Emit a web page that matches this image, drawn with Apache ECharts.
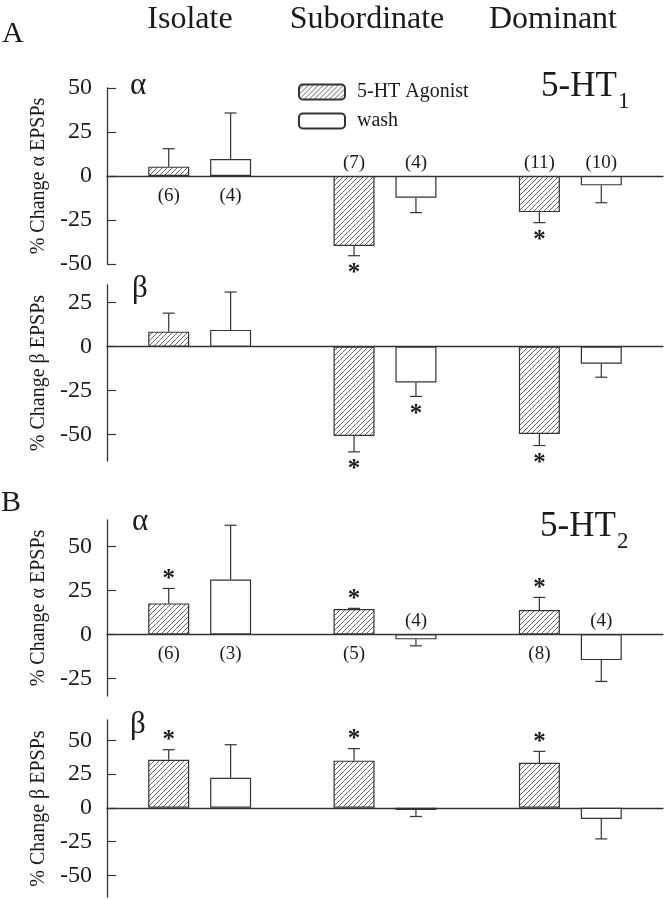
<!DOCTYPE html>
<html><head><meta charset="utf-8">
<script src="https://cdn.jsdelivr.net/npm/echarts@6/dist/echarts.min.js"></script>
<style>html,body{margin:0;padding:0;background:#fff}#c{width:672px;height:899px}</style>
</head><body><div id="c"></div>
<script>
// ---------------- data ----------------
const categories = ['Isolate', 'Subordinate', 'Dominant'];
const seriesNames = ['5-HT Agonist', 'wash'];

// Panel A (5-HT1), alpha EPSPs
const agonistA_alpha = [5.3, -39.8, -20.5];
const agonistA_alphaErr = [10.2, 5.5, 6.0];
const washA_alpha = [9.7, -12.3, -5.3];
const washA_alphaErr = [26.1, 8.5, 9.9];
const agonistA_alphaN = ['(6)', '(7)', '(11)'];
const washA_alphaN = ['(4)', '(4)', '(10)'];
const agonistA_alphaStar = [false, true, true];
const washA_alphaStar = [false, false, false];

// Panel A (5-HT1), beta EPSPs
const agonistA_beta = [8.5, -50.8, -49.7];
const agonistA_betaErr = [10.5, 9.0, 6.5];
const washA_beta = [9.5, -20.4, -9.7];
const washA_betaErr = [21.5, 7.9, 7.7];
const agonistA_betaStar = [false, true, true];
const washA_betaStar = [false, true, false];

// Panel B (5-HT2), alpha EPSPs
const agonistB_alpha = [17.6, 14.4, 13.8];
const agonistB_alphaErr = [8.5, 0.4, 7.2];
const washB_alpha = [31.2, -2.8, -14.6];
const washB_alphaErr = [30.8, 3.7, 12.1];
const agonistB_alphaN = ['(6)', '(5)', '(8)'];
const washB_alphaN = ['(3)', '(4)', '(4)'];
const agonistB_alphaStar = [true, true, true];
const washB_alphaStar = [false, false, false];

// Panel B (5-HT2), beta EPSPs
const agonistB_beta = [35.6, 34.9, 33.4];
const agonistB_betaErr = [7.4, 8.9, 8.4];
const washB_beta = [22.3, -1.7, -8.2];
const washB_betaErr = [24.4, 4.7, 14.8];
const agonistB_betaStar = [true, true, true];
const washB_betaStar = [false, false, false];

// tick labels
const yTicksA_alpha = [-50, -25, 0, 25, 50];
const yTicksA_beta = [-50, -25, 0, 25];
const yTicksB_alpha = [-25, 0, 25, 50];
const yTicksB_beta = [-50, -25, 0, 25, 50];
const yRangeA_alpha = [-50, 50];
const yRangeA_beta = [-65, 35];
const yRangeB_alpha = [-35, 65];
const yRangeB_beta = [-66, 65];
const yNames = ['% Change \u03b1 EPSPs', '% Change \u03b2 EPSPs', '% Change \u03b1 EPSPs', '% Change \u03b2 EPSPs'];

// ---------------- layout / style ----------------
const SERIF = '"Liberation Serif", "DejaVu Serif", "Times New Roman", serif';
const INK = '#1a1a1a';
const LINE = '#333';
const BAR_W = 41;
const BAR_GAP = 0.51;
const OFFSET = (BAR_W + BAR_W * BAR_GAP) / 2;

function hatch() {
  const c = document.createElement('canvas');
  c.width = 5; c.height = 5;
  const g = c.getContext('2d');
  g.fillStyle = '#fff'; g.fillRect(0, 0, 5, 5);
  g.strokeStyle = '#555'; g.lineWidth = 0.9;
  g.beginPath();
  g.moveTo(0, 5); g.lineTo(5, 0);
  g.moveTo(-1, 1); g.lineTo(1, -1);
  g.moveTo(4, 6); g.lineTo(6, 4);
  g.stroke();
  return c;
}
const hatchFill = { image: hatch(), repeat: 'repeat' };

const panels = [
  { top: 88, height: 176, range: yRangeA_alpha, ticks: yTicksA_alpha,
    ag: agonistA_alpha, agE: agonistA_alphaErr, wa: washA_alpha, waE: washA_alphaErr,
    agN: agonistA_alphaN, waN: washA_alphaN, agS: agonistA_alphaStar, waS: washA_alphaStar },
  { top: 285, height: 176, range: yRangeA_beta, ticks: yTicksA_beta,
    ag: agonistA_beta, agE: agonistA_betaErr, wa: washA_beta, waE: washA_betaErr,
    agN: null, waN: null, agS: agonistA_betaStar, waS: washA_betaStar },
  { top: 520, height: 176, range: yRangeB_alpha, ticks: yTicksB_alpha,
    ag: agonistB_alpha, agE: agonistB_alphaErr, wa: washB_alpha, waE: washB_alphaErr,
    agN: agonistB_alphaN, waN: washB_alphaN, agS: agonistB_alphaStar, waS: washB_alphaStar },
  { top: 720, height: 177, range: yRangeB_beta, ticks: yTicksB_beta,
    ag: agonistB_beta, agE: agonistB_betaErr, wa: washB_beta, waE: washB_betaErr,
    agN: null, waN: null, agS: agonistB_betaStar, waS: washB_betaStar }
];

function makeRender(vals, errs, ns, stars, offset) {
  return function (params, api) {
    const i = params.dataIndex;
    const v = vals[i], e = errs[i];
    const sgn = v >= 0 ? 1 : -1;
    const p = api.coord([i, v]);
    const pe = api.coord([i, v + sgn * e]);
    const p0 = api.coord([i, 0]);
    const x = p[0] + offset;
    const ch = [
      { type: 'line', shape: { x1: x, y1: p[1], x2: x, y2: pe[1] }, style: { stroke: LINE, lineWidth: 1.2 } },
      { type: 'line', shape: { x1: x - 6, y1: pe[1], x2: x + 6, y2: pe[1] }, style: { stroke: LINE, lineWidth: 1.2 } }
    ];
    if (stars[i]) {
      ch.push({ type: 'text', style: { text: '*', x: x, y: (sgn > 0 ? pe[1] - 13 : pe[1] + 14) + 4,
        align: 'center', verticalAlign: 'middle', font: 'bold 25px ' + SERIF, fill: INK } });
    }
    if (ns && ns[i]) {
      ch.push({ type: 'text', style: { text: ns[i], x: x, y: sgn > 0 ? p0[1] + 20 : p0[1] - 13,
        align: 'center', verticalAlign: 'middle', font: '19px ' + SERIF, fill: INK } });
    }
    return { type: 'group', children: ch };
  };
}

const grid = [], xAxis = [], yAxis = [], series = [];
panels.forEach((pn, k) => {
  grid.push({ left: 107, width: 556, top: pn.top, height: pn.height });
  xAxis.push({ type: 'category', gridIndex: k, data: categories,
    axisLine: { onZero: true, lineStyle: { color: LINE, width: 1.3 } },
    axisTick: { show: false }, axisLabel: { show: false }, splitLine: { show: false } });
  yAxis.push({ type: 'value', gridIndex: k, min: pn.range[0], max: pn.range[1],
    name: yNames[k], nameLocation: 'middle', nameRotate: 90, nameGap: 58,
    nameTextStyle: { fontFamily: SERIF, fontSize: 20, color: INK },
    axisLine: { show: true, onZero: false, lineStyle: { color: LINE, width: 1.3 } },
    axisTick: { show: true, inside: true, length: 9, customValues: pn.ticks, lineStyle: { color: LINE, width: 1.2 } },
    axisLabel: { customValues: pn.ticks, fontFamily: SERIF, fontSize: 24, color: INK, margin: 15 },
    splitLine: { show: false } });
  series.push({ type: 'bar', name: seriesNames[0], xAxisIndex: k, yAxisIndex: k, data: pn.ag,
    barWidth: BAR_W, barGap: (BAR_GAP * 100) + '%', silent: true,
    itemStyle: { color: hatchFill, borderColor: LINE, borderWidth: 1.2 } });
  series.push({ type: 'bar', name: seriesNames[1], xAxisIndex: k, yAxisIndex: k, data: pn.wa,
    barWidth: BAR_W, barGap: (BAR_GAP * 100) + '%', silent: true,
    itemStyle: { color: '#fff', borderColor: LINE, borderWidth: 1.2 } });
  series.push({ type: 'custom', xAxisIndex: k, yAxisIndex: k, silent: true, z: 5,
    data: pn.ag.map((v, i) => [i, v]), renderItem: makeRender(pn.ag, pn.agE, pn.agN, pn.agS, -OFFSET) });
  series.push({ type: 'custom', xAxisIndex: k, yAxisIndex: k, silent: true, z: 5,
    data: pn.wa.map((v, i) => [i, v]), renderItem: makeRender(pn.wa, pn.waE, pn.waN, pn.waS, OFFSET) });
});

const txt = (text, x, y, size, align) => ({ type: 'text', x: x, y: y, silent: true,
  style: { text: text, font: size + 'px ' + SERIF, fill: INK, align: align || 'left', verticalAlign: 'middle' } });

const titleX = [190, 367, 553];

const chart = echarts.init(document.getElementById('c'), null, { renderer: 'canvas' });
chart.setOption({
  animation: false,
  backgroundColor: '#fff',
  grid: grid, xAxis: xAxis, yAxis: yAxis, series: series,
  legend: { data: seriesNames, orient: 'vertical', left: 298, top: 82, padding: 0,
    itemWidth: 46, itemHeight: 15, itemGap: 9, selectedMode: false,
    textStyle: { fontFamily: SERIF, fontSize: 20, color: INK, padding: [0, 0, 0, 7] } },
  graphic: categories.map((c, i) => txt(c, titleX[i], 20, 32, 'center')).concat([
    txt('A', 2, 34, 30),
    txt('B', 1, 503, 30),
    txt('\u03b1', 138, 86, 31, 'center'),
    txt('\u03b2', 140, 289, 31, 'center'),
    txt('\u03b1', 140, 522, 31, 'center'),
    txt('\u03b2', 138, 725, 31, 'center'),
    txt('5-HT', 541, 87, 35),
    txt('1', 618, 102, 23),
    txt('5-HT', 540, 527, 35),
    txt('2', 617, 542, 23)
  ])
});
</script>
</body></html>
